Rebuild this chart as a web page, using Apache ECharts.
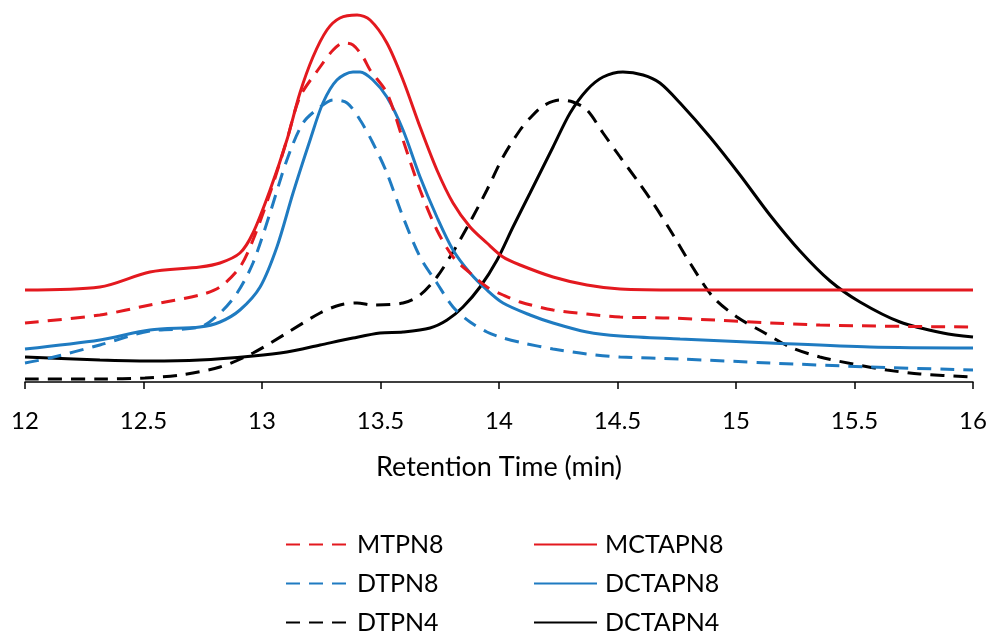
<!DOCTYPE html>
<html>
<head>
<meta charset="utf-8">
<script src="https://cdn.jsdelivr.net/npm/echarts@6/dist/echarts.min.js"></script>
<style>
html,body{margin:0;padding:0;background:#fff;}
#chart{width:992px;height:643px;}
</style>
</head>
<body>
<div id="chart"></div>
<script>
// Retention time (min) and detector signal (arbitrary units)
const mtpn8Time   = [12.00,12.316,12.527,12.738,12.823,12.907,12.962,13.034,13.105,13.160,13.245,13.300,13.342,13.384,13.426,13.456,13.527,13.595,13.667,13.738,13.806,13.878,13.949,14.017,14.089,14.228,14.371,14.511,14.722,15.354,16.00];
const mtpn8Signal = [59,67,77,87,95,115,142,189,242,285,315,332,339,337,325,312,289,242,192,152,125,109,95,87,80,72,68,65,64,57,55];

const mctapn8Time   = [12.00,12.316,12.527,12.738,12.823,12.907,12.962,13.034,13.105,13.160,13.215,13.274,13.329,13.401,13.456,13.527,13.595,13.667,13.738,13.806,13.878,13.949,14.017,14.089,14.228,14.371,14.511,14.764,16.00];
const mctapn8Signal = [92,95,110,115,119,129,149,192,242,289,325,352,364,367,362,339,302,255,212,179,155,139,125,117,105,97,93,92,92];

const dtpn8Time   = [12.00,12.105,12.316,12.527,12.738,12.823,12.895,12.962,13.034,13.105,13.173,13.245,13.300,13.359,13.414,13.468,13.527,13.595,13.667,13.738,13.806,13.878,13.949,14.017,14.101,14.228,14.371,14.511,14.764,15.143,15.565,16.00];
const dtpn8Signal = [19,24,37,51,55,69,89,119,169,222,259,275,282,279,262,239,209,165,125,99,75,60,50,44,39,33,28,25,23,19,15,12];

const dctapn8Time   = [12.00,12.316,12.527,12.738,12.823,12.907,12.992,13.063,13.131,13.203,13.257,13.316,13.384,13.414,13.468,13.527,13.595,13.667,13.738,13.806,13.878,13.949,14.017,14.131,14.228,14.371,14.511,14.764,15.143,15.565,16.00];
const dctapn8Signal = [33,42,52,55,60,72,95,135,189,242,279,302,310,310,302,285,252,205,165,132,109,92,79,67,59,50,46,43,39,35,34];

const dtpn4Time   = [12.00,12.316,12.506,12.654,12.823,12.962,13.105,13.245,13.329,13.401,13.468,13.595,13.667,13.738,13.806,13.878,13.949,14.017,14.089,14.131,14.186,14.257,14.312,14.371,14.439,14.511,14.582,14.650,14.722,14.806,14.903,15.004,15.114,15.228,15.354,15.494,15.637,15.776,16.00];
const dtpn4Signal = [3,3,4,7,15,29,49,69,77,79,77,79,87,105,130,160,192,225,252,264,276,282,280,272,249,225,202,179,152,119,85,65,50,35,25,18,12,8,5];

const dctapn4Time   = [12.00,12.316,12.527,12.738,12.962,13.105,13.245,13.384,13.498,13.595,13.709,13.781,13.848,13.920,13.992,14.059,14.131,14.228,14.300,14.371,14.439,14.523,14.608,14.679,14.764,14.890,15.017,15.143,15.270,15.397,15.523,15.692,15.873,16.00];
const dctapn4Signal = [25,22,21,22,26,30,37,44,49,50,54,62,75,95,122,155,189,235,269,292,305,310,307,299,279,245,207,167,131,101,80,60,49,45];

const xTickMin = 12, xTickMax = 16, xTickStep = 0.5;
const axisTitle = 'Retention Time (min)';

const RED = '#e3191f', BLUE = '#1f7bc1', BLACK = '#000000';
const DASH = [14, 9];

function pairs(t, v){ return t.map((x,i)=>[x, v[i]]); }
function mk(name, t, v, color, dashed){
  return {
    name, type:'line', data:pairs(t,v), showSymbol:false, symbol:'none',
    smooth:0.3, animation:false,
    lineStyle:{color, width:3, type: dashed ? DASH : 'solid'},
    itemStyle:{color}
  };
}

const chart = echarts.init(document.getElementById('chart'), null, {renderer:'canvas'});
const FONT = 'Lato';
const legendCommon = {
  orient:'vertical', top:527, itemWidth:63, itemHeight:24, itemGap:14, height:112,
  itemStyle:{opacity:0, borderWidth:0},
  textStyle:{fontFamily:FONT, fontSize:25, lineHeight:24, color:'#000', padding:[0,0,0,3]}
};
chart.setOption({
  backgroundColor:'#fff',
  animation:false,
  grid:{left:25, right:19, top:10, bottom:261, containLabel:false},
  xAxis:{
    type:'value', min:xTickMin, max:xTickMax, interval:xTickStep,
    name:axisTitle, nameLocation:'middle', nameGap:72,
    nameTextStyle:{fontFamily:FONT, fontSize:27, color:'#000'},
    axisLine:{show:true, lineStyle:{color:'#000', width:1.5}},
    axisTick:{show:true, inside:false, length:7, lineStyle:{color:'#000', width:1.5}},
    axisLabel:{fontFamily:FONT, fontSize:24, color:'#000', margin:27},
    splitLine:{show:false}
  },
  yAxis:{type:'value', min:0, max:372, show:false, splitLine:{show:false}},
  legend:[
    Object.assign({left:280, data:['MTPN8','DTPN8','DTPN4']}, legendCommon),
    Object.assign({left:528, data:['MCTAPN8','DCTAPN8','DCTAPN4']}, legendCommon)
  ],
  series:[
    mk('DTPN4', dtpn4Time, dtpn4Signal, BLACK, true),
    mk('DCTAPN4', dctapn4Time, dctapn4Signal, BLACK, false),
    mk('DTPN8', dtpn8Time, dtpn8Signal, BLUE, true),
    mk('DCTAPN8', dctapn8Time, dctapn8Signal, BLUE, false),
    mk('MTPN8', mtpn8Time, mtpn8Signal, RED, true),
    mk('MCTAPN8', mctapn8Time, mctapn8Signal, RED, false)
  ]
});
</script>
</body>
</html>
